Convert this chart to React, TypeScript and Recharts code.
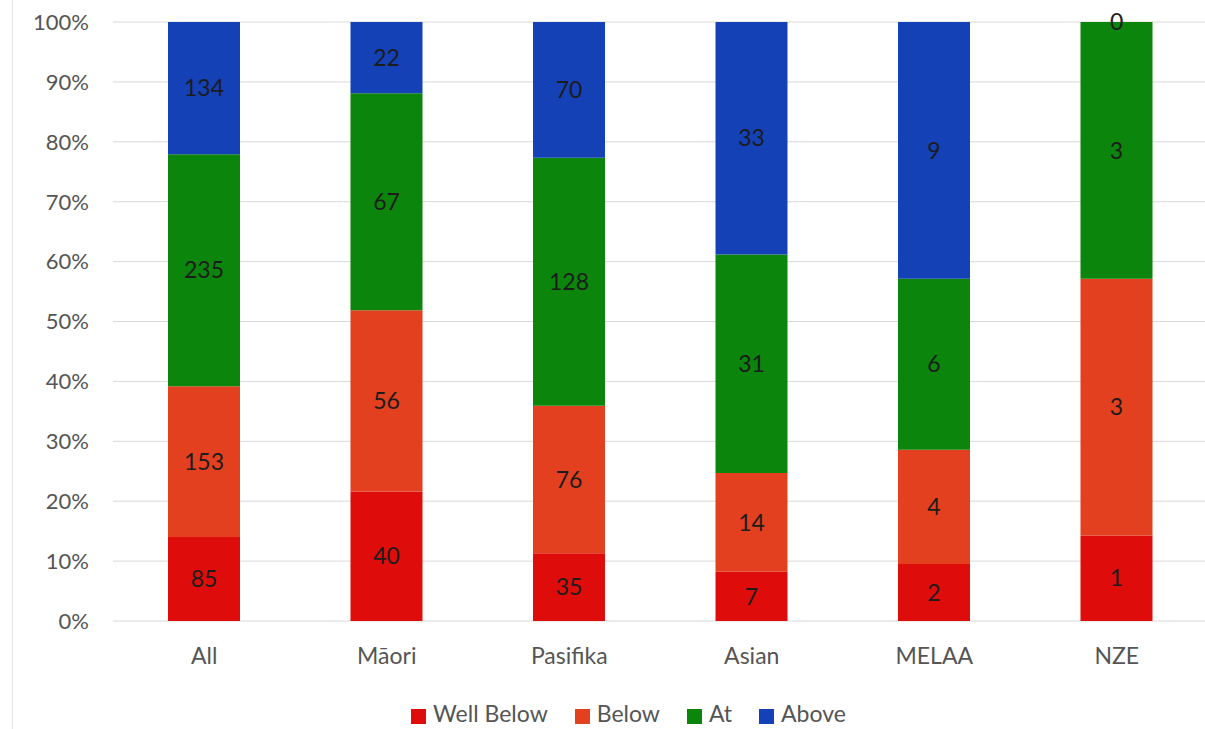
import React from 'react';
import { BarChart, Bar, XAxis, YAxis, CartesianGrid, Legend, LabelList, ReferenceDot } from 'recharts';

const groups = ['All', 'Māori', 'Pasifika', 'Asian', 'MELAA', 'NZE'];
const wellBelow = [85, 40, 35, 7, 2, 1];
const below = [153, 56, 76, 14, 4, 3];
const at = [235, 67, 128, 31, 6, 3];
const above = [134, 22, 70, 33, 9, 0];
const yTicks = [0, 0.1, 0.2, 0.3, 0.4, 0.5, 0.6, 0.7, 0.8, 0.9, 1];

const data = groups.map((g, i) => ({
  group: g,
  wellBelow: wellBelow[i],
  below: below[i],
  at: at[i],
  above: above[i],
}));

const series = [
  { key: 'wellBelow', name: 'Well Below', color: '#df0c0c' },
  { key: 'below', name: 'Below', color: '#e2401f' },
  { key: 'at', name: 'At', color: '#0b850b' },
  { key: 'above', name: 'Above', color: '#1441b6' },
];
const order = series.map((s) => s.name);

const font = 'Lato, "Open Sans", sans-serif';

export default function App() {
  return (
    <div style={{ position: 'relative', width: 1205, height: 729, overflow: 'hidden', background: '#fff', fontFamily: font }}>
      <style>{`body{margin:0}`}</style>
      <div style={{ position: 'absolute', left: 12, top: 0, width: 1, height: 729, background: '#e3e3e3' }} />
      <BarChart
        width={1208}
        height={729}
        data={data}
        stackOffset="expand"
        margin={{ top: 22, right: 0, left: 0, bottom: 10 }}
        barSize={72}
      >
        <CartesianGrid vertical={false} stroke="#d9d9d9" />
        <XAxis
          dataKey="group"
          axisLine={false}
          tickLine={false}
          tick={{ fill: '#555', fontSize: 23, fontFamily: font }}
          tickMargin={21}
        />
        <YAxis
          width={113}
          ticks={yTicks}
          domain={[0, 1]}
          axisLine={false}
          tickLine={false}
          tickFormatter={(v: number) => `${Math.round(v * 100)}%`}
          tick={{ fill: '#555', fontSize: 22, fontFamily: font }}
          tickMargin={18}
        />
        <Legend
          verticalAlign="bottom"
          iconType="square"
          iconSize={15}
          itemSorter={(item: any) => order.indexOf(item.value)}
          wrapperStyle={{ fontSize: 23, fontFamily: font, color: '#555', paddingTop: 44, paddingLeft: 38, bottom: 4, lineHeight: '24px' }}
          formatter={(v: string) => <span style={{ color: '#555', marginLeft: 3, marginRight: 17 }}>{v}</span>}
        />
        {series.map((s) => (
          <Bar key={s.key} dataKey={s.key} name={s.name} stackId="a" fill={s.color} isAnimationActive={false}>
            <LabelList dataKey={s.key} position="center" fill="#1c1c1c" fontSize={23} fontFamily={font} />
          </Bar>
        ))}
        {data
          .filter((d) => d.above === 0)
          .map((d) => (
            <ReferenceDot
              key={d.group}
              x={d.group}
              y={1}
              r={0}
              fill="none"
              stroke="none"
              label={{ value: String(d.above), position: 'center', fill: '#1c1c1c', fontSize: 23, fontFamily: font }}
            />
          ))}
      </BarChart>
    </div>
  );
}
